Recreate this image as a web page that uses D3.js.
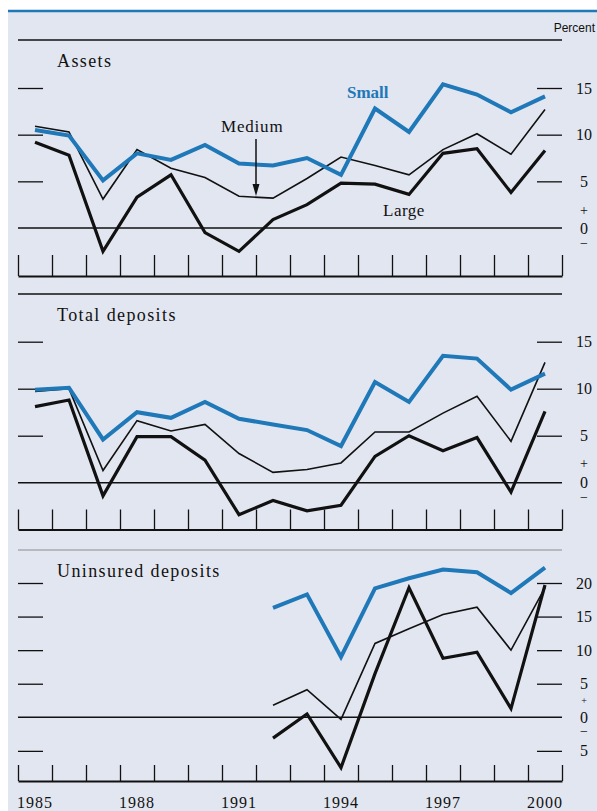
<!doctype html>
<html lang="en">
<head>
<meta charset="UTF-8">
<title>Assets and deposits growth</title>
<style>
  body { margin: 0; background: #fff; }
  svg text { font-family: "Liberation Serif", "Times New Roman", serif; fill: #111; }
</style>
</head>
<body>
<div id="chart"></div>
<script src="https://d3js.org/d3.v7.min.js"></script>
<script>
  const years = [1985, 1986, 1987, 1988, 1989, 1990, 1991, 1992, 1993, 1994, 1995, 1996, 1997, 1998, 1999, 2000]
  const yearLabels = [1985, 1988, 1991, 1994, 1997, 2000]

  const assetsSmall = [10.5, 9.9, 5.1, 8.0, 7.3, 8.9, 6.9, 6.7, 7.5, 5.7, 12.8, 10.3, 15.4, 14.3, 12.4, 14.1]
  const assetsMedium = [10.9, 10.3, 3.1, 8.4, 6.4, 5.4, 3.4, 3.2, 5.3, 7.6, 6.7, 5.7, 8.4, 10.1, 7.9, 12.7]
  const assetsLarge = [9.2, 7.8, -2.5, 3.3, 5.7, -0.5, -2.5, 0.9, 2.5, 4.8, 4.7, 3.6, 8.0, 8.5, 3.8, 8.3]

  const depSmall = [9.9, 10.1, 4.6, 7.5, 6.9, 8.6, 6.8, 6.2, 5.6, 3.9, 10.7, 8.6, 13.5, 13.2, 9.9, 11.6]
  const depMedium = [9.7, 10.0, 1.3, 6.6, 5.5, 6.2, 3.1, 1.1, 1.4, 2.1, 5.4, 5.4, 7.4, 9.2, 4.4, 12.8]
  const depLarge = [8.1, 8.8, -1.4, 4.9, 4.9, 2.4, -3.4, -1.9, -3.0, -2.4, 2.8, 5.0, 3.4, 4.8, -1.0, 7.6]

  const unYears = [1992, 1993, 1994, 1995, 1996, 1997, 1998, 1999, 2000]
  const unSmall = [16.3, 18.3, 9.0, 19.2, 20.7, 22.0, 21.6, 18.5, 22.3]
  const unMedium = [1.8, 4.1, -0.3, 11.0, 13.2, 15.3, 16.4, 10.0, 19.3]
  const unLarge = [-3.1, 0.5, -7.5, 6.5, 19.3, 8.8, 9.7, 1.3, 19.7]

  const blue = '#1f78b8'
  const width = 597
  const height = 811
  const left = 18
  const right = 562

  const svg = d3.select('#chart').append('svg')
    .attr('width', width)
    .attr('height', height)

  svg.append('rect')
    .attr('x', 8).attr('y', 11)
    .attr('width', width - 8).attr('height', height - 11)
    .attr('fill', '#e2e6f0')

  svg.append('line')
    .attr('x1', 8).attr('x2', width)
    .attr('y1', 11).attr('y2', 11)
    .attr('stroke', blue).attr('stroke-width', 2.5)

  svg.append('text')
    .attr('x', 595).attr('y', 32)
    .attr('text-anchor', 'end')
    .style('font-family', '"Liberation Sans", Arial, sans-serif')
    .style('font-size', '12px')
    .text('Percent')

  // year centres sit in the middle of each tick interval
  const x = d3.scaleLinear()
    .domain([years[0] - 0.5, years[years.length - 1] + 0.5])
    .range([left, right])

  const panels = [
    {
      title: 'Assets', top: 40, base: 276, tickLen: 21,
      y: d3.scaleLinear().domain([0, 15]).range([228, 88]),
      ticks: [5, 10, 15], labels: [15, 10, 5, 0], plus: 1.9, minus: -1.6, signSize: 14,
      years: years, small: assetsSmall, medium: assetsMedium, large: assetsLarge
    },
    {
      title: 'Total deposits', top: 294, base: 529.5, tickLen: 20,
      y: d3.scaleLinear().domain([0, 15]).range([482.7, 341.7]),
      ticks: [5, 10, 15], labels: [15, 10, 5, 0], plus: 2.05, minus: -1.5, signSize: 14,
      years: years, small: depSmall, medium: depMedium, large: depLarge
    },
    {
      title: 'Uninsured deposits', top: 550, base: 781, tickLen: 16,
      y: d3.scaleLinear().domain([0, 20]).range([717.3, 583]),
      ticks: [-5, 5, 10, 15, 20], labels: [20, 15, 10, 5, 0, -5], plus: 2.5, minus: -2.1, signSize: 10,
      years: unYears, small: unSmall, medium: unMedium, large: unLarge
    }
  ]

  panels.forEach((p, i) => {
    const g = svg.append('g')

    g.append('line')
      .attr('x1', left).attr('x2', right)
      .attr('y1', p.top).attr('y2', p.top)
      .attr('stroke', i === 2 ? '#8c8c8c' : '#111')
      .attr('stroke-width', i === 2 ? 1 : 1.4)

    g.append('text')
      .attr('x', 57).attr('y', p.top + 27)
      .style('font-size', '18px')
      .style('letter-spacing', '1.4px')
      .text(p.title)

    // short gridline stubs on both sides
    g.append('g')
      .attr('transform', `translate(${left},0)`)
      .call(d3.axisRight(p.y).tickValues(p.ticks).tickSize(25).tickFormat(''))
      .call(a => a.select('.domain').remove())
      .call(a => a.selectAll('line').attr('stroke', '#111').attr('stroke-width', 1.3))
    g.append('g')
      .attr('transform', `translate(${right},0)`)
      .call(d3.axisLeft(p.y).tickValues(p.ticks).tickSize(25).tickFormat(''))
      .call(a => a.select('.domain').remove())
      .call(a => a.selectAll('line').attr('stroke', '#111').attr('stroke-width', 1.3))

    // zero line
    g.append('line')
      .attr('x1', left).attr('x2', right)
      .attr('y1', p.y(0)).attr('y2', p.y(0))
      .attr('stroke', '#111').attr('stroke-width', 1.4)

    // right side labels
    g.selectAll('.lab')
      .data(p.labels)
      .enter().append('text')
      .attr('x', 584)
      .attr('y', d => p.y(d))
      .attr('dy', '0.35em')
      .attr('text-anchor', 'middle')
      .style('font-size', '16px')
      .text(d => Math.abs(d))
    g.append('text')
      .attr('x', 584).attr('y', p.y(p.plus)).attr('dy', '0.35em')
      .attr('text-anchor', 'middle').style('font-size', p.signSize + 'px').text('+')
    g.append('text')
      .attr('x', 584).attr('y', p.y(p.minus)).attr('dy', '0.35em')
      .attr('text-anchor', 'middle').style('font-size', '14px').text('\u2212')

    // bottom tick row
    const edges = years.map(d => d - 0.5).concat([years[years.length - 1] + 0.5])
    g.append('g')
      .attr('transform', `translate(0,${p.base})`)
      .call(d3.axisTop(x).tickValues(edges).tickSize(p.tickLen).tickSizeOuter(0).tickFormat(''))
      .call(a => a.select('.domain').attr('stroke', '#111').attr('stroke-width', 2))
      .call(a => a.selectAll('line').attr('stroke', '#111').attr('stroke-width', 1.3))

    const line = d3.line()
      .x((d, j) => x(p.years[j]))
      .y(d => p.y(d))

    g.append('path').datum(p.medium)
      .attr('d', line).attr('fill', 'none')
      .attr('stroke', '#111').attr('stroke-width', 1.6)
    g.append('path').datum(p.large)
      .attr('d', line).attr('fill', 'none')
      .attr('stroke', '#111').attr('stroke-width', 3.2)
    g.append('path').datum(p.small)
      .attr('d', line).attr('fill', 'none')
      .attr('stroke', blue).attr('stroke-width', 4)
  })

  // year labels
  svg.selectAll('.year')
    .data(yearLabels)
    .enter().append('text')
    .attr('x', d => x(d))
    .attr('y', 808)
    .attr('text-anchor', 'middle')
    .style('font-size', '16px')
    .style('letter-spacing', '1px')
    .text(d => d)

  // series labels in the assets panel
  svg.append('text')
    .attr('x', 347).attr('y', 98)
    .style('font-size', '17px').style('font-weight', 'bold')
    .style('fill', blue)
    .text('Small')
  svg.append('text')
    .attr('x', 383).attr('y', 216)
    .style('font-size', '17px')
    .style('letter-spacing', '0.5px')
    .text('Large')
  svg.append('text')
    .attr('x', 221).attr('y', 132)
    .style('font-size', '17px')
    .style('letter-spacing', '0.8px')
    .text('Medium')

  const ax = x(1991.5)
  svg.append('line')
    .attr('x1', ax).attr('x2', ax)
    .attr('y1', 139).attr('y2', 186)
    .attr('stroke', '#111').attr('stroke-width', 1.5)
  svg.append('path')
    .attr('d', `M${ax - 3.5},184 L${ax + 3.5},184 L${ax},196 Z`)
    .attr('fill', '#111')
</script>
</body>
</html>
